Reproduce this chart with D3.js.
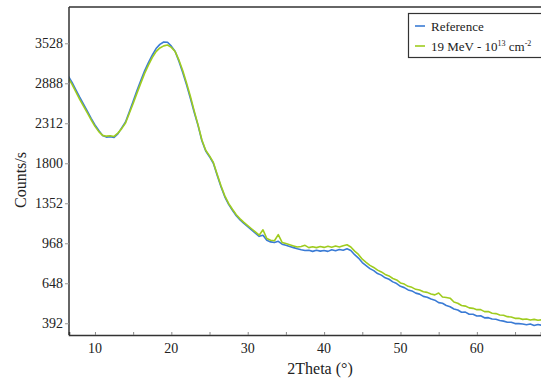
<!DOCTYPE html>
<html>
<head>
<meta charset="utf-8">
<script src="https://cdn.jsdelivr.net/npm/d3@7"></script>
<style>
  body { margin: 0; background: #fff; }
  svg, svg text { font-family: "Liberation Serif", "Times New Roman", serif !important; }
</style>
</head>
<body>
<script>
// 2Theta grid (degrees)
const angles = [
  6.5, 7.0, 7.5, 8.0, 8.5, 9.0, 9.5, 10.0, 10.5, 11.0, 11.5, 12.0, 12.5, 13.0, 13.5, 14.0,
  14.5, 15.0, 15.5, 16.0, 16.5, 17.0, 17.5, 18.0, 18.5, 19.0, 19.5, 20.0, 20.5, 21.0, 21.5,
  22.0, 22.5, 23.0, 23.5, 24.0, 24.5, 25.0, 25.5, 26.0, 26.5, 27.0, 27.5, 28.0, 28.5, 29.0,
  29.5, 30.0, 30.5, 31.0, 31.5, 32.0, 32.5, 33.0, 33.5, 34.0, 34.5, 35.0, 35.5, 36.0, 36.5,
  37.0, 37.5, 38.0, 38.5, 39.0, 39.5, 40.0, 40.5, 41.0, 41.5, 42.0, 42.5, 43.0, 43.5, 44.0,
  44.5, 45.0, 45.5, 46.0, 46.5, 47.0, 47.5, 48.0, 48.5, 49.0, 49.5, 50.0, 50.5, 51.0, 51.5,
  52.0, 52.5, 53.0, 53.5, 54.0, 54.5, 55.0, 55.5, 56.0, 56.5, 57.0, 57.5, 58.0, 58.5, 59.0,
  59.5, 60.0, 60.5, 61.0, 61.5, 62.0, 62.5, 63.0, 63.5, 64.0, 64.5, 65.0, 65.5, 66.0, 66.5,
  67.0, 67.5, 68.0, 68.5
];

// Reference sample (counts/s)
const reference = [
  3000, 2900, 2790, 2680, 2580, 2480, 2380, 2290, 2215, 2150, 2128, 2132, 2124, 2170, 2250, 2330,
  2470, 2620, 2780, 2930, 3080, 3210, 3330, 3440, 3510, 3550, 3545, 3480, 3390, 3230, 3050,
  2860, 2660, 2460, 2280, 2080, 1950, 1880, 1800, 1660, 1530, 1420, 1340, 1280, 1225, 1185,
  1150, 1120, 1090, 1060, 1030, 1040, 995, 980, 975, 985, 960, 950, 940, 930, 920,
  912, 905, 908, 898, 908, 900, 906, 898, 912, 903, 914, 908, 920, 905, 870,
  842, 806, 782, 758, 742, 720, 708, 688, 677, 658, 646, 626, 617, 601, 594,
  579, 572, 557, 551, 539, 532, 516, 512, 498, 490, 476, 470, 456, 457, 444,
  444, 434, 435, 423, 424, 416, 415, 408, 404, 398, 398, 390, 390, 388, 384,
  388, 380, 385, 381
];

// Irradiated sample: 19 MeV, 1e13 cm^-2 (counts/s)
const irradiated = [
  2970, 2870, 2760, 2650, 2550, 2455, 2360, 2270, 2200, 2150, 2140, 2146, 2136, 2180, 2240, 2315,
  2450, 2590, 2740, 2890, 3040, 3170, 3290, 3390, 3450, 3485, 3500, 3460, 3390, 3250, 3080,
  2890, 2690, 2480, 2290, 2090, 1960, 1890, 1810, 1670, 1540, 1430, 1350, 1290, 1235, 1195,
  1160, 1130, 1100, 1070, 1040, 1090, 1010, 995, 990, 1045, 975, 965, 955, 945, 935,
  940, 950, 930, 937, 930, 940, 932, 942, 934, 944, 936, 947, 955, 935, 900,
  872, 833, 807, 783, 767, 746, 732, 713, 702, 683, 672, 650, 642, 626, 619,
  605, 600, 588, 584, 573, 567, 580, 553, 550, 545, 520, 512, 498, 494, 483,
  480, 472, 472, 460, 460, 450, 448, 440, 438, 430, 428, 420, 420, 414, 416,
  410, 414, 409, 412
];

const yTicks = [392, 648, 968, 1352, 1800, 2312, 2888, 3528];
const xTicks = [10, 15, 20, 25, 30, 35, 40, 45, 50, 55, 60, 65];
const xTickLabels = [10, 20, 30, 40, 50, 60];

const width = 541;
const height = 378;
const margin = { left: 69, right: 541, top: 7, bottom: 335 };

const x = d3.scaleLinear().domain([6.6, 68.4]).range([margin.left, margin.right]);
const y = d3.scaleSqrt().domain([329, 4164]).range([margin.bottom, margin.top]);

const svg = d3.select("body").append("svg")
  .attr("width", width)
  .attr("height", height);

svg.append("clipPath").attr("id", "plot")
  .append("rect")
  .attr("x", margin.left).attr("y", margin.top)
  .attr("width", margin.right - margin.left).attr("height", margin.bottom - margin.top);

// series
const series = [
  { name: "Reference", values: reference, color: "#3a7bd5" },
  { name: "irr", values: irradiated, color: "#9fcc1f" }
];

const line = d3.line()
  .x((d, i) => x(angles[i]))
  .y(d => y(d));

svg.append("g")
  .attr("clip-path", "url(#plot)")
  .selectAll("path")
  .data(series)
  .join("path")
  .attr("fill", "none")
  .attr("stroke", d => d.color)
  .attr("stroke-width", 1.6)
  .attr("stroke-linejoin", "round")
  .attr("d", d => line(d.values));

// frame
svg.append("line")
  .attr("x1", margin.left).attr("x2", margin.right)
  .attr("y1", margin.top).attr("y2", margin.top)
  .attr("stroke", "#333").attr("stroke-width", 1.5);

// x axis (ticks inside)
const xAxis = svg.append("g")
  .attr("transform", `translate(0,${margin.bottom})`)
  .call(d3.axisBottom(x).tickValues(xTicks).tickSize(-3).tickFormat(""));
xAxis.select(".domain").attr("stroke", "#333").attr("stroke-width", 1.5);
xAxis.selectAll(".tick line").attr("stroke", "#888");

svg.append("g")
  .selectAll("text")
  .data(xTickLabels)
  .join("text")
  .attr("x", d => x(d))
  .attr("y", 353)
  .attr("text-anchor", "middle")
  .attr("font-size", 14)
  .attr("fill", "#222")
  .text(d => d);

// y axis
const yAxis = svg.append("g")
  .attr("transform", `translate(${margin.left},0)`)
  .call(d3.axisLeft(y).tickValues(yTicks).tickSize(4).tickPadding(2).tickFormat(d3.format("d")))
  .attr("font-size", 14);
yAxis.select(".domain").attr("stroke", "#333").attr("stroke-width", 1.5)
  .attr("d", `M0,${margin.top}V${margin.bottom}`);
yAxis.selectAll(".tick line").attr("stroke", "#999");
yAxis.selectAll(".tick text").attr("fill", "#222");

// axis titles
svg.append("text")
  .attr("x", 320).attr("y", 374)
  .attr("text-anchor", "middle")
  .attr("font-size", 16)
  .attr("fill", "#222")
  .text("2Theta (°)");

svg.append("text")
  .attr("transform", "translate(26,180) rotate(-90)")
  .attr("text-anchor", "middle")
  .attr("font-size", 16)
  .attr("fill", "#222")
  .text("Counts/s");

// legend
const legend = svg.append("g");
legend.append("rect")
  .attr("x", 408.5).attr("y", 13.5)
  .attr("width", 140).attr("height", 44)
  .attr("fill", "#fff")
  .attr("stroke", "#333").attr("stroke-width", 1.2);

legend.selectAll("line")
  .data(series)
  .join("line")
  .attr("x1", 415).attr("x2", 425)
  .attr("y1", (d, i) => 26 + i * 20).attr("y2", (d, i) => 26 + i * 20)
  .attr("stroke", d => d.color).attr("stroke-width", 1.6);

legend.append("text")
  .attr("x", 431).attr("y", 30.5)
  .attr("font-size", 13).attr("fill", "#222")
  .text("Reference");

const t2 = legend.append("text")
  .attr("x", 431).attr("y", 50.5)
  .attr("font-size", 13).attr("fill", "#222");
t2.append("tspan").text("19 MeV - 10");
t2.append("tspan").attr("font-size", 8).attr("dy", -5).text("13");
t2.append("tspan").attr("dy", 5).text(" cm");
t2.append("tspan").attr("font-size", 8).attr("dy", -5).text("-2");
</script>
</body>
</html>
